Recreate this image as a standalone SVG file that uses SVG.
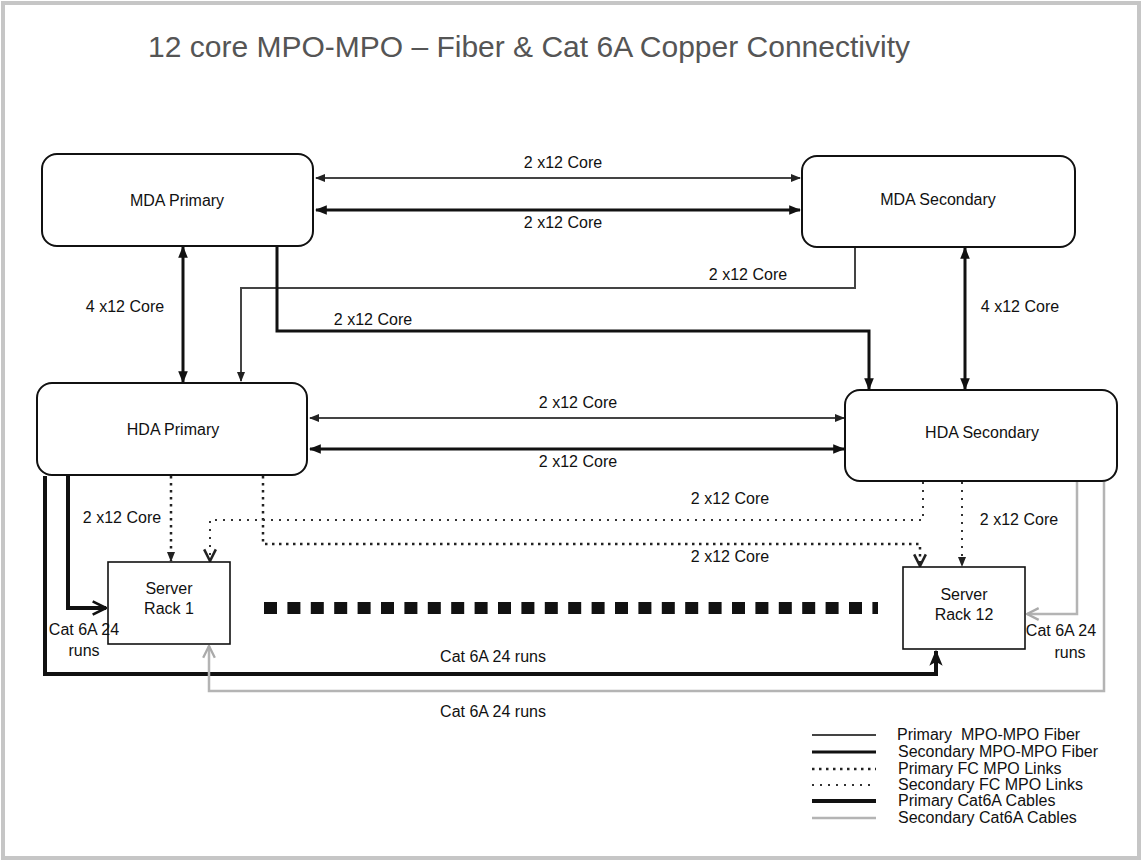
<svg xmlns="http://www.w3.org/2000/svg" width="1142" height="863" viewBox="0 0 1142 863">
<style>
text{font-family:"Liberation Sans",Arial,sans-serif;font-size:16px;fill:#111;}
.c{text-anchor:middle;}
.title{font-size:30px;fill:#555;}
.node{fill:#fff;stroke:#111;stroke-width:2;}
.rack{fill:#fff;stroke:#111;stroke-width:1.6;}
.pf{fill:none;stroke:#444;stroke-width:2;}
.sf{fill:none;stroke:#111;stroke-width:3;}
.pd{fill:none;stroke:#222;stroke-width:2.5;stroke-dasharray:2.5 4.5;}
.sd{fill:none;stroke:#333;stroke-width:2;stroke-dasharray:2 6;}
.pc{fill:none;stroke:#111;stroke-width:4;}
.sc{fill:none;stroke:#b4b4b4;stroke-width:2.5;}
.sq{fill:none;stroke:#111;stroke-width:12;stroke-dasharray:13 10.4;}
</style>
<defs>
<marker id="af" viewBox="0 0 10 10" refX="9" refY="5" markerWidth="10" markerHeight="10" markerUnits="userSpaceOnUse" orient="auto-start-reverse"><path d="M0,1 L10,5 L0,9 Z" fill="#222"/></marker>
<marker id="ab" viewBox="0 0 10 10" refX="9" refY="5" markerWidth="12" markerHeight="12" markerUnits="userSpaceOnUse" orient="auto-start-reverse"><path d="M0,1 L10,5 L0,9 Z" fill="#111"/></marker>
<marker id="av" viewBox="0 0 12 12" refX="11" refY="6" markerWidth="14" markerHeight="14" markerUnits="userSpaceOnUse" orient="auto"><path d="M1,1 L11,6 L1,11" fill="none" stroke="#222" stroke-width="2.2"/></marker>
<marker id="ach" viewBox="0 0 12 12" refX="11" refY="6" markerWidth="16" markerHeight="16" markerUnits="userSpaceOnUse" orient="auto"><path d="M1,1 L11,6 L1,11" fill="none" stroke="#111" stroke-width="2"/></marker>
<marker id="abig" viewBox="0 0 12 12" refX="11" refY="6" markerWidth="16" markerHeight="16" markerUnits="userSpaceOnUse" orient="auto"><path d="M0,1 L12,6 L0,11 L3,6 Z" fill="#111"/></marker>
<marker id="ag" viewBox="0 0 12 12" refX="11" refY="6" markerWidth="14" markerHeight="14" markerUnits="userSpaceOnUse" orient="auto"><path d="M1,1 L11,6 L1,11" fill="none" stroke="#aaa" stroke-width="2"/></marker>
</defs>
<rect x="3" y="3" width="1136" height="855" fill="#fff" stroke="#c6c6c6" stroke-width="4"/>
<text class="title" x="148" y="57">12 core MPO-MPO – Fiber &amp; Cat 6A Copper Connectivity</text>

<g id="connectors">
<line class="pf" x1="316" y1="178" x2="800" y2="178" marker-start="url(#af)" marker-end="url(#af)"/>
<line class="sf" x1="316" y1="210" x2="800" y2="210" marker-start="url(#ab)" marker-end="url(#ab)"/>
<line class="sf" x1="183" y1="247" x2="183" y2="382" marker-start="url(#ab)" marker-end="url(#ab)"/>
<line class="sf" x1="965" y1="248" x2="965" y2="389" marker-start="url(#ab)" marker-end="url(#ab)"/>
<path class="pf" d="M855 247 V288 H241 V381" marker-end="url(#af)"/>
<path class="sf" d="M277 246 V331 H869 V389" marker-end="url(#ab)"/>
<line class="pf" x1="310" y1="418" x2="844" y2="418" marker-start="url(#af)" marker-end="url(#af)"/>
<line class="sf" x1="310" y1="449" x2="844" y2="449" marker-start="url(#ab)" marker-end="url(#ab)"/>
<path class="pd" d="M171 476 V561" marker-end="url(#af)"/>
<path class="pd" d="M263 476 V544 H920 V566" marker-end="url(#av)"/>
<path class="sd" d="M923 482 V520 H210 V561" marker-end="url(#av)"/>
<path class="sd" d="M962 482 V566" marker-end="url(#af)"/>
<path class="pc" d="M68 476 V608 H106" marker-end="url(#ach)"/>
<path class="pc" d="M45 476 V674 H936 V651" marker-end="url(#abig)"/>
<path class="sc" d="M1104 482 V691 H209 V646" marker-end="url(#ag)"/>
<path class="sc" d="M1077 482 V614 H1027" marker-end="url(#ag)"/>
<line class="sq" x1="264" y1="608" x2="878" y2="608"/>
</g>

<g id="mda-primary"><rect class="node" x="42" y="154" width="271" height="92" rx="15"/><text class="c" x="177" y="206">MDA Primary</text></g>
<g id="mda-secondary"><rect class="node" x="802" y="156" width="273" height="91" rx="15"/><text class="c" x="938" y="205">MDA Secondary</text></g>
<g id="hda-primary"><rect class="node" x="37" y="383" width="270" height="92" rx="15"/><text class="c" x="173" y="435">HDA Primary</text></g>
<g id="hda-secondary"><rect class="node" x="845" y="390" width="272" height="91" rx="15"/><text class="c" x="982" y="438">HDA Secondary</text></g>
<g id="server-rack-1"><rect class="rack" x="108" y="562" width="122" height="82"/><text class="c" x="169" y="594">Server</text><text class="c" x="169" y="614">Rack 1</text></g>
<g id="server-rack-12"><rect class="rack" x="903" y="567" width="122" height="82"/><text class="c" x="964" y="600">Server</text><text class="c" x="964" y="620">Rack 12</text></g>

<g id="labels">
<text class="c" x="563" y="168">2 x12 Core</text>
<text class="c" x="563" y="228">2 x12 Core</text>
<text class="c" x="125" y="312">4 x12 Core</text>
<text class="c" x="748" y="280">2 x12 Core</text>
<text class="c" x="373" y="325">2 x12 Core</text>
<text class="c" x="1020" y="312">4 x12 Core</text>
<text class="c" x="578" y="408">2 x12 Core</text>
<text class="c" x="578" y="467">2 x12 Core</text>
<text class="c" x="122" y="523">2 x12 Core</text>
<text class="c" x="730" y="504">2 x12 Core</text>
<text class="c" x="730" y="562">2 x12 Core</text>
<text class="c" x="1019" y="525">2 x12 Core</text>
<text class="c" x="493" y="662">Cat 6A 24 runs</text>
<text class="c" x="493" y="717">Cat 6A 24 runs</text>
<text class="c" x="84" y="635">Cat 6A 24</text>
<text class="c" x="84" y="656">runs</text>
<text class="c" x="1061" y="636">Cat 6A 24</text>
<text class="c" x="1070" y="658">runs</text>
</g>

<g id="legend">
<line class="pf" x1="812" y1="735" x2="876" y2="735"/>
<line class="sf" x1="812" y1="752" x2="876" y2="752"/>
<line class="pd" x1="812" y1="769" x2="876" y2="769"/>
<line class="sd" x1="812" y1="785" x2="876" y2="785"/>
<line class="pc" x1="812" y1="801" x2="876" y2="801"/>
<line class="sc" x1="812" y1="818" x2="876" y2="818"/>
<text x="897" y="740" style="white-space:pre">Primary  MPO-MPO Fiber</text>
<text x="898" y="757">Secondary MPO-MPO Fiber</text>
<text x="898" y="774">Primary FC MPO Links</text>
<text x="898" y="790">Secondary FC MPO Links</text>
<text x="898" y="806">Primary Cat6A Cables</text>
<text x="898" y="823">Secondary Cat6A Cables</text>
</g>
</svg>
